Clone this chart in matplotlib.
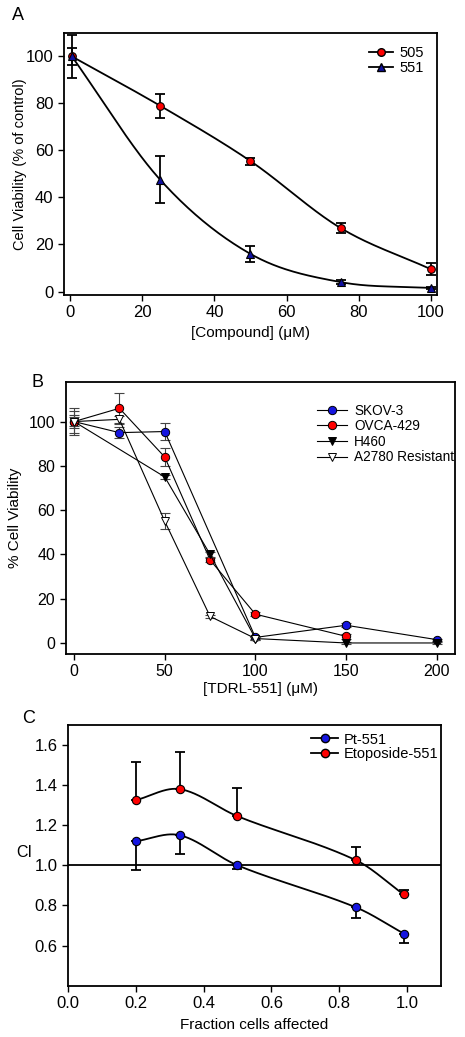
import numpy as np
import matplotlib
matplotlib.use("Agg")
import matplotlib.pyplot as plt

plt.rcParams['font.family'] = ['Liberation Sans', 'DejaVu Sans']
plt.rcParams['font.size'] = 10

# panel A data
conc_a = [0.5, 25, 50, 75, 100]
via_505 = [100, 79, 55.5, 27, 9.5]
err_505 = [9, 5, 1.5, 2, 2.5]
via_551 = [100, 47.5, 16, 4, 1.5]
err_551 = [3.5, 10, 3.5, 1, 0.5]

# panel B data
x_skov = [0, 25, 50, 100, 150, 200]
y_skov = [100, 95, 95.5, 2.5, 8, 1.5]
e_skov = [6, 2.5, 4, 0.5, 1, 0.5]
x_ovca = [0, 25, 50, 75, 100, 150]
y_ovca = [100, 106, 84, 37.5, 13, 3]
e_ovca = [5, 7, 4, 1, 1, 1]
x_h460 = [0, 50, 75, 100, 150, 200]
y_h460 = [100, 75, 40, 2, 0, 0]
e_h460 = [3, 1, 1, 0.5, 0.5, 0.5]
x_a2780 = [0, 25, 50, 75, 100]
y_a2780 = [100, 101, 55, 12, 2]
e_a2780 = [2, 1.5, 3.5, 0.5, 0.5]

# panel C data
fa = [0.2, 0.33, 0.5, 0.85, 0.99]
ci_pt = [1.12, 1.15, 1.0, 0.79, 0.66]
err_pt = [0.145, 0.095, 0.02, 0.055, 0.045]
ci_eto = [1.325, 1.38, 1.245, 1.025, 0.855]
err_eto = [0.19, 0.185, 0.14, 0.065, 0.02]


def smooth(x, y, n=60):
    # cubic hermite (catmull-rom style) curve through the points
    x = np.asarray(x, float)
    y = np.asarray(y, float)
    k = len(x)
    m = np.zeros(k)
    m[0] = (y[1] - y[0]) / (x[1] - x[0])
    m[-1] = (y[-1] - y[-2]) / (x[-1] - x[-2])
    for i in range(1, k - 1):
        m[i] = (y[i + 1] - y[i - 1]) / (x[i + 1] - x[i - 1])
    xs_all, ys_all = [], []
    for i in range(k - 1):
        h = x[i + 1] - x[i]
        t = np.linspace(0, 1, n)
        h00 = 2 * t**3 - 3 * t**2 + 1
        h10 = t**3 - 2 * t**2 + t
        h01 = -2 * t**3 + 3 * t**2
        h11 = t**3 - t**2
        xs_all.append(x[i] + t * h)
        ys_all.append(h00 * y[i] + h10 * h * m[i] + h01 * y[i + 1] + h11 * h * m[i + 1])
    return np.concatenate(xs_all), np.concatenate(ys_all)


def style_axes(ax, ls=11.5):
    for s in ax.spines.values():
        s.set_linewidth(1.3)
    ax.tick_params(direction='out', length=4, width=1, labelsize=ls, top=False, right=False)


fig = plt.figure(figsize=(4.65, 10.37), dpi=100)

# ---- A
ax = fig.add_axes([0.1376, 0.7155, 0.802, 0.2527])
xs, ys = smooth(conc_a, via_505)
ax.plot(xs, ys, color='black', lw=1.3)
xs, ys = smooth(conc_a, via_551)
ax.plot(xs, ys, color='black', lw=1.3)
ax.errorbar(conc_a, via_505, yerr=err_505, fmt='none', ecolor='black', elinewidth=1.3, capsize=3.5, capthick=1.3)
ax.errorbar(conc_a, via_551, yerr=err_551, fmt='none', ecolor='black', elinewidth=1.3, capsize=3.5, capthick=1.3)
ax.plot(conc_a, via_505, 'o', color='red', mec='black', mew=0.8, ms=5.5)
ax.plot(conc_a, via_551, '^', color='#1010a0', mec='black', mew=0.8, ms=5.5)
h1 = plt.Line2D([], [], color='black', lw=1.3, marker='o', mfc='red', mec='black', ms=5.5)
h2 = plt.Line2D([], [], color='black', lw=1.3, marker='^', mfc='#1010a0', mec='black', ms=5.5)
ax.legend([h1, h2], ['505', '551'], loc='upper right', frameon=False, fontsize=10.5,
          handlelength=1.7, handletextpad=0.4, labelspacing=0.05, borderaxespad=0.5,
          bbox_to_anchor=(1.0, 1.0))
ax.set_xlim(-1.7, 101.7)
ax.set_ylim(-1.5, 110)
ax.set_xticks(np.arange(0, 101, 20))
ax.set_yticks(np.arange(0, 101, 20))
ax.set_xlabel('[Compound] (μM)', fontsize=11, labelpad=4)
ax.set_ylabel('Cell Viability (% of control)', fontsize=10.5, va='center')
ax.yaxis.set_label_coords(-0.118, 0.5)
style_axes(ax, 12)
fig.text(0.025, 0.985, 'A', fontsize=13, va='center')

# ---- B
ax = fig.add_axes([0.1413, 0.3693, 0.837, 0.2626])
series_b = [
    (x_skov, y_skov, e_skov, 'o', '#1515e0', 'SKOV-3'),
    (x_ovca, y_ovca, e_ovca, 'o', 'red', 'OVCA-429'),
    (x_h460, y_h460, e_h460, 'v', 'black', 'H460'),
    (x_a2780, y_a2780, e_a2780, 'v', 'white', 'A2780 Resistant'),
]
handles = []
for xv, yv, ev, mk, fc, lab in series_b:
    ax.errorbar(xv, yv, yerr=ev, fmt='none', ecolor='#444444', elinewidth=0.8, capsize=3.5, capthick=0.8)
    ax.plot(xv, yv, color='black', lw=0.8, marker=mk, mfc=fc, mec='black', mew=0.7, ms=6)
    handles.append(plt.Line2D([], [], color='black', lw=0.8, marker=mk, mfc=fc, mec='black', mew=0.7, ms=6))
ax.legend(handles, [s[5] for s in series_b], loc='upper right', frameon=False, fontsize=9.8,
          handlelength=2.2, handletextpad=0.5, labelspacing=0.12, borderaxespad=0.0,
          bbox_to_anchor=(1.012, 0.94))
ax.set_xlim(-4.6, 210)
ax.set_ylim(-5, 118)
ax.set_xticks(np.arange(0, 201, 50))
ax.set_yticks(np.arange(0, 101, 20))
ax.set_xlabel('[TDRL-551] (μM)', fontsize=11, labelpad=2)
ax.set_ylabel('% Cell Viability', fontsize=11, va='center')
ax.yaxis.set_label_coords(-0.13, 0.5)
style_axes(ax, 11.5)
fig.text(0.068, 0.631, 'B', fontsize=13, va='center')

# ---- C
ax = fig.add_axes([0.1462, 0.0495, 0.802, 0.2514])
ax.axhline(1.0, color='black', lw=1.3)
xs, ys = smooth(fa, ci_pt)
ax.plot(xs, ys, color='black', lw=1.3)
xs, ys = smooth(fa, ci_eto)
ax.plot(xs, ys, color='black', lw=1.3)
ax.errorbar(fa, ci_pt, yerr=[err_pt, np.zeros(len(fa))], fmt='none', ecolor='black',
            elinewidth=1.3, capsize=3.5, capthick=1.3)
ax.errorbar(fa, ci_eto, yerr=[np.zeros(len(fa)), err_eto], fmt='none', ecolor='black',
            elinewidth=1.3, capsize=3.5, capthick=1.3)
ax.plot(fa, ci_pt, 'o', color='#1515e0', mec='black', mew=0.8, ms=6)
ax.plot(fa, ci_eto, 'o', color='red', mec='black', mew=0.8, ms=6)
h1 = plt.Line2D([], [], color='black', lw=1.3, marker='o', mfc='#1515e0', mec='black', ms=6)
h2 = plt.Line2D([], [], color='black', lw=1.3, marker='o', mfc='red', mec='black', ms=6)
ax.legend([h1, h2], ['Pt-551', 'Etoposide-551'], loc='upper right', frameon=False, fontsize=10.5,
          handlelength=1.8, handletextpad=0.4, labelspacing=0.05, borderaxespad=0.3,
          bbox_to_anchor=(1.02, 1.01))
ax.set_xlim(0, 1.1)
ax.set_ylim(0.4, 1.7)
ax.set_xticks(np.arange(0, 1.01, 0.2))
ax.set_xticklabels(['%.1f' % v for v in np.arange(0, 1.01, 0.2)])
ax.set_yticks(np.arange(0.6, 1.61, 0.2))
ax.set_yticklabels(['%.1f' % v for v in np.arange(0.6, 1.61, 0.2)])
ax.set_xlabel('Fraction cells affected', fontsize=11, labelpad=5)
ax.set_ylabel('CI', fontsize=11.5, rotation=0, va='center', ha='center')
ax.yaxis.set_label_coords(-0.118, 0.51)
style_axes(ax, 12)
fig.text(0.048, 0.307, 'C', fontsize=13, va='center')

fig.savefig('out.png', dpi=100)
